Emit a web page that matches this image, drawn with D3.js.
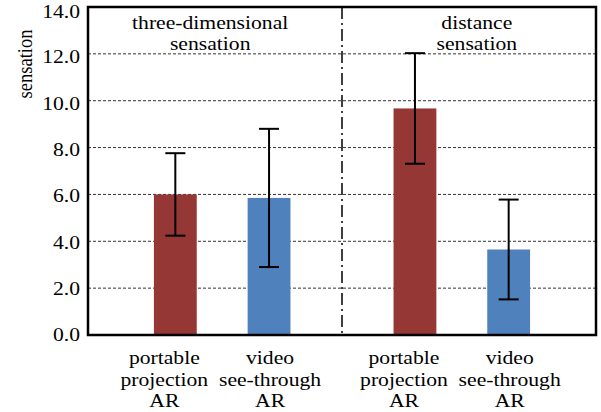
<!DOCTYPE html>
<html>
<head>
<meta charset="utf-8">
<script src="https://cdn.jsdelivr.net/npm/d3@7"></script>
<style>
  body { margin: 0; background: #fff; }
</style>
</head>
<body>
<script>
// groups and conditions
const GROUPS = ["three-dimensional sensation", "distance sensation"];
const GROUP_LINES = [["three-dimensional", "sensation"], ["distance", "sensation"]];
const CONDITIONS = ["portable projection AR", "video see-through AR"];
const CONDITION_LINES = [["portable", "projection", "AR"], ["video", "see-through", "AR"]];
// means and standard deviations, one per group
const PORTABLE_MEAN = [6.0, 9.67];
const PORTABLE_SD = [1.76, 2.36];
const VIDEO_MEAN = [5.85, 3.65];
const VIDEO_SD = [2.95, 2.13];
const Y_TICKS = [0, 2, 4, 6, 8, 10, 12, 14];

const colors = d3.scaleOrdinal().domain(CONDITIONS).range(["#953735", "#4f81bd"]);

const width = 601, height = 412;
const margin = { left: 88, top: 7, right: 5, bottom: 77 };
const innerW = width - margin.left - margin.right;
const innerH = height - margin.top - margin.bottom;
// the original picture is a bit stretched sideways
const STRETCH = 1.17;
const labelShift = { "portable projection AR": -11, "video see-through AR": 1 };

const data = [];
GROUPS.forEach((g, gi) => {
  data.push({ group: g, cond: CONDITIONS[0], mean: PORTABLE_MEAN[gi], sd: PORTABLE_SD[gi] });
  data.push({ group: g, cond: CONDITIONS[1], mean: VIDEO_MEAN[gi], sd: VIDEO_SD[gi] });
});

const x0 = d3.scaleBand().domain(GROUPS).range([0, innerW]).paddingInner(0).paddingOuter(0.06);
const x1 = d3.scaleBand().domain(CONDITIONS).range([0, x0.bandwidth()]).paddingInner(0.543).paddingOuter(0.55);
const y = d3.scaleLinear().domain([0, 14]).range([innerH, 0]);

const root = d3.select("body").append("svg")
  .attr("width", width)
  .attr("height", height);
const svg = root.append("g")
  .attr("transform", `translate(${margin.left},${margin.top})`);

// serif text helper
function addText(x, yy, str, anchor, rot) {
  return svg.append("text")
    .attr("transform", `translate(${x},${yy}) scale(${STRETCH},1)` + (rot ? ` rotate(${rot})` : ""))
    .attr("text-anchor", anchor)
    .attr("font-size", 18.5)
    .style("font-family", "'Liberation Serif'")
    .attr("fill", "#000")
    .text(str);
}

// grid lines
svg.selectAll("line.grid")
  .data(Y_TICKS.filter(t => t > 0 && t < 14))
  .enter().append("line")
  .attr("class", "grid")
  .attr("x1", 0).attr("x2", innerW)
  .attr("y1", d => y(d)).attr("y2", d => y(d))
  .attr("stroke", "#333")
  .attr("stroke-width", 1)
  .attr("stroke-dasharray", "3,2");

// divider between the two groups
const divX = x0(GROUPS[1]);
svg.append("line")
  .attr("x1", divX).attr("x2", divX)
  .attr("y1", 0).attr("y2", innerH)
  .attr("stroke", "#000")
  .attr("stroke-width", 1.5)
  .attr("stroke-dasharray", "12,4,2,4");

// bars
svg.selectAll("rect.bar")
  .data(data)
  .enter().append("rect")
  .attr("class", "bar")
  .attr("x", d => x0(d.group) + x1(d.cond))
  .attr("width", x1.bandwidth())
  .attr("y", d => y(d.mean))
  .attr("height", d => innerH - y(d.mean))
  .attr("fill", d => colors(d.cond));

// error bars
const capW = 20;
const err = svg.selectAll("g.err")
  .data(data)
  .enter().append("g")
  .attr("class", "err")
  .attr("transform", d => `translate(${x0(d.group) + x1(d.cond) + x1.bandwidth() / 2},0)`)
  .attr("stroke", "#000")
  .attr("stroke-width", 2);
err.append("line")
  .attr("y1", d => y(d.mean - d.sd)).attr("y2", d => y(d.mean + d.sd));
err.append("line")
  .attr("x1", -capW / 2).attr("x2", capW / 2)
  .attr("y1", d => y(d.mean + d.sd)).attr("y2", d => y(d.mean + d.sd));
err.append("line")
  .attr("x1", -capW / 2).attr("x2", capW / 2)
  .attr("y1", d => y(d.mean - d.sd)).attr("y2", d => y(d.mean - d.sd));

// frame
svg.append("rect")
  .attr("width", innerW).attr("height", innerH)
  .attr("fill", "none")
  .attr("stroke", "#000")
  .attr("stroke-width", 2.5);

// y tick labels (top one kept inside the picture)
Y_TICKS.forEach(t => {
  addText(-8, Math.max(y(t) + t * 0.25, 5), d3.format(".1f")(t), "end")
    .attr("dy", "0.35em");
});

// y axis title
addText(-56, 57, "sensation", "middle", -90);

// group titles
GROUPS.forEach((g, gi) => {
  const cx = x0(g) + x0.bandwidth() / 2 + (gi === 0 ? -12 : 15);
  GROUP_LINES[gi].forEach((line, li) => {
    addText(cx, 21.5 + li * 21.7, line, "middle");
  });
});

// category labels
data.forEach(d => {
  const cx = x0(d.group) + x1(d.cond) + x1.bandwidth() / 2 + labelShift[d.cond];
  CONDITION_LINES[CONDITIONS.indexOf(d.cond)].forEach((line, li) => {
    addText(cx, innerH + 29 + li * 21.7, line, "middle");
  });
});
</script>
</body>
</html>
